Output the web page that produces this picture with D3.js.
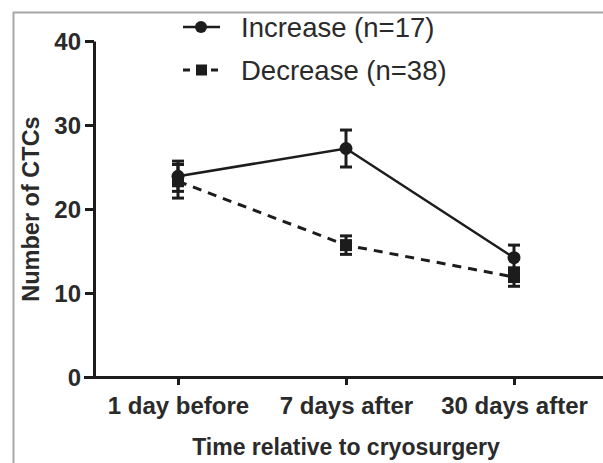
<!DOCTYPE html>
<html>
<head>
<meta charset="utf-8">
<script src="https://cdn.jsdelivr.net/npm/d3@7"></script>
<style>
html,body{margin:0;padding:0;background:#fff;}
svg{display:block;font-family:"Liberation Sans",Arial,Helvetica,sans-serif;}
</style>
</head>
<body>
<svg id="chart" width="603" height="463"></svg>
<script>
const categories = ["1 day before", "7 days after", "30 days after"];
const increaseMean = [23.9, 27.2, 14.2];
const increaseErr = [1.8, 2.2, 1.5];
const decreaseMean = [23.3, 15.7, 11.9];
const decreaseErr = [2.0, 1.1, 1.1];
const yTicks = [0, 10, 20, 30, 40];
const seriesNames = ["Increase (n=17)", "Decrease (n=38)"];
const xTitle = "Time relative to cryosurgery";
const yTitle = "Number of CTCs";

const svg = d3.select("#chart");
const ink = "#1c1c1c";
const textCol = "#2a2a2a";

// frame border
svg.append("rect").attr("x", 13.5).attr("y", 12.5).attr("width", 800).attr("height", 800)
  .attr("fill", "none").attr("stroke", "#a8a8a8").attr("stroke-width", 2);

const x = d3.scalePoint().domain(categories).range([94, 598]).padding(0.5);
const y = d3.scaleLinear().domain([0, 40]).range([377, 41]);

// y axis
const yAxis = svg.append("g").attr("transform", "translate(94,0)")
  .call(d3.axisLeft(y).tickValues(yTicks).tickSize(9).tickPadding(4).tickSizeOuter(0));
yAxis.select(".domain").attr("stroke", ink).attr("stroke-width", 3);
yAxis.selectAll(".tick line").attr("stroke", ink).attr("stroke-width", 3);
yAxis.selectAll(".tick text").attr("fill", textCol).attr("font-size", 24).attr("font-weight", "bold")
  .attr("font-family", "Liberation Sans, Arial, sans-serif").attr("dy", "0.36em");

// x axis
const xAxis = svg.append("g").attr("transform", "translate(0,377)")
  .call(d3.axisBottom(x).tickSize(8).tickPadding(0).tickSizeOuter(0));
xAxis.select(".domain").attr("stroke", ink).attr("stroke-width", 3).attr("d", "M84,0.5H603");
xAxis.selectAll(".tick line").attr("stroke", ink).attr("stroke-width", 3);
xAxis.selectAll(".tick text").attr("fill", textCol).attr("font-size", 24).attr("font-weight", "bold")
  .attr("font-family", "Liberation Sans, Arial, sans-serif").attr("y", 37).attr("dy", 0);

// titles
svg.append("text").attr("x", 346).attr("y", 455).attr("text-anchor", "middle")
  .attr("fill", textCol).attr("font-size", 23).attr("font-weight", "bold").text(xTitle);
svg.append("text").attr("transform", "translate(39,209) rotate(-90)").attr("text-anchor", "middle")
  .attr("fill", textCol).attr("font-size", 23.5).attr("font-weight", "bold").text(yTitle);

const inc = categories.map((c, i) => ({c, m: increaseMean[i], e: increaseErr[i]}));
const dec = categories.map((c, i) => ({c, m: decreaseMean[i], e: decreaseErr[i]}));

const line = d3.line().x(d => x(d.c)).y(d => y(d.m));

// lines
svg.append("path").datum(dec).attr("d", line).attr("fill", "none").attr("stroke", ink)
  .attr("stroke-width", 3).attr("stroke-dasharray", "9,7");
svg.append("path").datum(inc).attr("d", line).attr("fill", "none").attr("stroke", ink)
  .attr("stroke-width", 2.5);

function errorBars(data) {
  const g = svg.append("g").attr("stroke", ink).attr("stroke-width", 3);
  data.forEach(d => {
    const cx = x(d.c);
    g.append("line").attr("x1", cx).attr("x2", cx).attr("y1", y(d.m + d.e)).attr("y2", y(d.m - d.e));
    g.append("line").attr("x1", cx - 6).attr("x2", cx + 6).attr("y1", y(d.m + d.e)).attr("y2", y(d.m + d.e));
    g.append("line").attr("x1", cx - 6).attr("x2", cx + 6).attr("y1", y(d.m - d.e)).attr("y2", y(d.m - d.e));
  });
}
errorBars(dec);
errorBars(inc);

// markers
svg.append("g").selectAll("rect").data(dec).join("rect")
  .attr("x", d => x(d.c) - 6).attr("y", d => y(d.m) - 6).attr("width", 12).attr("height", 12)
  .attr("fill", ink);
svg.append("g").selectAll("circle").data(inc).join("circle")
  .attr("cx", d => x(d.c)).attr("cy", d => y(d.m)).attr("r", 6.5).attr("fill", ink);

// legend
const lg = svg.append("g");
lg.append("line").attr("x1", 183).attr("x2", 220).attr("y1", 27).attr("y2", 27).attr("stroke", ink).attr("stroke-width", 2.5);
lg.append("circle").attr("cx", 201).attr("cy", 27).attr("r", 6).attr("fill", ink);
lg.append("text").attr("x", 241).attr("y", 37).attr("font-size", 27.5).attr("fill", textCol).text(seriesNames[0]);
lg.append("line").attr("x1", 183).attr("x2", 218).attr("y1", 70).attr("y2", 70).attr("stroke", ink).attr("stroke-width", 3).attr("stroke-dasharray", "7,7");
lg.append("rect").attr("x", 196).attr("y", 64.5).attr("width", 11).attr("height", 11).attr("fill", ink);
lg.append("text").attr("x", 241).attr("y", 80).attr("font-size", 27.5).attr("fill", textCol).text(seriesNames[1]);
</script>
</body>
</html>
